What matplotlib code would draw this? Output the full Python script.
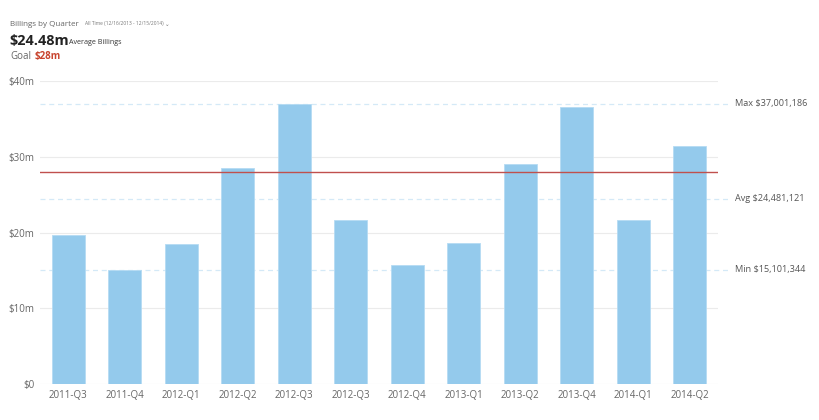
import matplotlib.pyplot as plt

plt.rcParams['font.family'] = ['Open Sans', 'DejaVu Sans']

# Billings per quarter (in $m)
quarters = ["2011-Q3", "2011-Q4", "2012-Q1", "2012-Q2", "2012-Q3", "2012-Q3",
            "2012-Q4", "2013-Q1", "2013-Q2", "2013-Q4", "2014-Q1", "2014-Q2"]
billings = [19.7, 15.101344, 18.5, 28.5, 37.001186, 21.65,
            15.7, 18.6, 29.0, 36.6, 21.65, 31.4]
goal = 28.0
avg = 24.481121
y_ticks = [0, 10, 20, 30, 40]
y_labels = ["$0", "$10m", "$20m", "$30m", "$40m"]

bar_color = '#94CAEC'
goal_color = '#C0504D'
text_gray = '#666666'

fig = plt.figure(figsize=(8.2, 4.2), dpi=100)
ax = fig.add_axes([40 / 820, 36 / 420, 678 / 820, 303 / 420])

x = range(len(quarters))
ax.bar(x, billings, width=0.59, color=bar_color, edgecolor='#B5DBF3',
       linewidth=0.6, zorder=3)
ax.set_xlim(-0.5, len(quarters) - 0.5)
ax.set_ylim(0, 40)

ax.set_yticks(y_ticks)
ax.set_yticklabels(y_labels)
ax.set_xticks(list(x))
ax.set_xticklabels(quarters)
ax.tick_params(length=0, labelsize=7, colors=text_gray, pad=4)

for v in y_ticks:
    ax.axhline(v, color='#EBEBEB' if v else '#E2E2E2', linewidth=0.8, zorder=1)

for s in ax.spines.values():
    s.set_visible(False)

# reference lines for max / avg / min
refs = [("Max", max(billings)), ("Avg", avg), ("Min", min(billings))]
for name, val in refs:
    ax.axhline(val, xmax=1.015, color='#D4E9F7', linewidth=0.9,
               linestyle=(0, (4, 3)), zorder=2, clip_on=False)
    ax.text(1.025, val, f"{name} ${val * 1e6:,.0f}", transform=ax.get_yaxis_transform(),
            va='center', ha='left', fontsize=6.6, color='#555555')

ax.axhline(goal, color=goal_color, linewidth=1.0, zorder=4)

# header
fig.text(10 / 820, 1 - 24 / 420, "Billings by Quarter", fontsize=5.8,
         color=text_gray, va='center')
fig.text(85 / 820, 1 - 24 / 420, "All Time (12/16/2013 - 12/15/2014)",
         fontsize=3.5, color='#777777', va='center')
fig.text(165 / 820, 1 - 24.5 / 420, "\u2304", fontsize=4, color='#777777',
         va='center', family='DejaVu Sans')
fig.text(9 / 820, 1 - 41 / 420, "$24.48m", fontsize=10.4, fontweight='bold',
         color='#222222', va='center')
fig.text(69 / 820, 1 - 42.5 / 420, "Average Billings", fontsize=5.1,
         color='#333333', va='center')
fig.text(10 / 820, 1 - 56.5 / 420, "Goal", fontsize=7, color=text_gray, va='center')
fig.text(35 / 820, 1 - 56.5 / 420, "$28m", fontsize=7, fontweight='bold',
         color='#C8442E', va='center')

plt.savefig('out.png', dpi=100)
